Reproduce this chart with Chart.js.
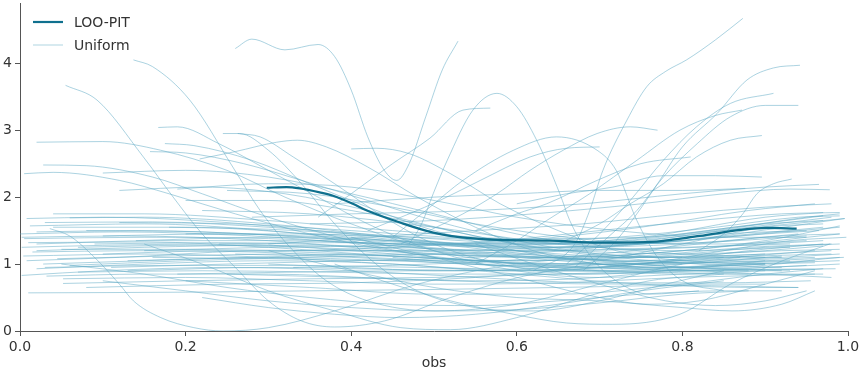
<!DOCTYPE html>
<html>
<head>
<meta charset="utf-8">
<script src="https://cdn.jsdelivr.net/npm/chart.js@4"></script>
<style>
html,body{margin:0;padding:0;background:#fff;}
#wrap{width:862px;height:375px;}
</style>
</head>
<body>
<div id="wrap"><canvas id="c" width="862" height="375"></canvas></div>
<script>
// ---- data ----
const xTicks = [0, 0.2, 0.4, 0.6, 0.8, 1.0];
const yTicks = [0, 1, 2, 3, 4];
const seriesNames = ["LOO-PIT", "Uniform"];

const looPitX = [0.298,0.322,0.338,0.362,0.378,0.402,0.419,0.459,0.499,0.54,0.58,0.64,0.70,0.761,0.821,0.87,0.902,0.938];
const looPitY = [2.14,2.15,2.13,2.07,2.02,1.90,1.80,1.62,1.47,1.39,1.36,1.35,1.32,1.33,1.42,1.51,1.54,1.53];

// Uniform reference curves: [obs, density] pairs
const uniformCurves = [
  [[0.26,4.22],[0.28,4.36],[0.32,4.2],[0.36,4.28],[0.38,4.1],[0.4,3.6],[0.42,2.9],[0.44,2.4],[0.455,2.25],[0.47,2.5],[0.49,3.2],[0.51,3.9],[0.529,4.33]],
  [[0.62,0.9],[0.67,1.3],[0.688,1.8],[0.704,2.4],[0.733,3.15],[0.757,3.65],[0.78,3.88],[0.805,4.05],[0.84,4.35],[0.873,4.67]],
  [[0.47,1.3],[0.485,1.6],[0.499,2.05],[0.516,2.55],[0.547,3.3],[0.576,3.55],[0.6,3.35],[0.624,2.85],[0.652,2.05],[0.664,1.65],[0.69,1.1],[0.72,0.75],[0.76,0.55],[0.82,0.6]],
  [[0.36,1.7],[0.4,2.05],[0.45,2.5],[0.495,2.88],[0.535,3.3],[0.568,3.33]],
  [[0.055,3.67],[0.093,3.45],[0.149,2.6],[0.185,2.0],[0.22,1.45],[0.26,0.95],[0.3,0.45],[0.34,0.15],[0.38,0.06],[0.44,0.15],[0.52,0.5],[0.62,0.85],[0.72,1.0],[0.8,1.0]],
  [[0.137,4.05],[0.16,3.95],[0.205,3.45],[0.257,2.45],[0.29,1.8],[0.33,1.2],[0.37,0.75],[0.42,0.45],[0.5,0.3],[0.6,0.4],[0.7,0.7],[0.8,1.0],[0.87,1.1]],
  [[0.036,1.53],[0.06,1.42],[0.09,1.1],[0.12,0.7],[0.137,0.45],[0.17,0.2],[0.21,0.05],[0.245,0.0],[0.3,0.05],[0.38,0.3],[0.48,0.7],[0.6,1.0],[0.72,1.1],[0.8,1.1]],
  [[0.02,2.82],[0.1,2.83],[0.17,2.7],[0.25,2.4],[0.32,2.0],[0.4,1.6],[0.5,1.2],[0.6,1.0],[0.7,0.9],[0.8,0.85],[0.88,0.85]],
  [[0.028,2.48],[0.08,2.47],[0.16,2.3],[0.22,2.05],[0.3,1.7],[0.4,1.35],[0.5,1.1],[0.6,0.95],[0.7,0.9],[0.8,0.95],[0.9,1.0]],
  [[0.005,2.35],[0.04,2.37],[0.12,2.25],[0.18,2.05],[0.26,1.75],[0.35,1.45],[0.45,1.2],[0.55,1.05],[0.65,1.0],[0.75,1.05],[0.85,1.1]],
  [[0.167,3.04],[0.19,3.05],[0.24,2.8],[0.3,2.4],[0.36,2.0],[0.42,1.6],[0.5,1.2],[0.6,0.9],[0.7,0.8],[0.8,0.85],[0.9,0.9]],
  [[0.175,2.8],[0.21,2.77],[0.28,2.55],[0.35,2.2],[0.42,1.85],[0.5,1.5],[0.6,1.2],[0.7,1.0],[0.8,0.95],[0.9,1.0]],
  [[0.157,2.68],[0.2,2.66],[0.27,2.5],[0.34,2.25],[0.42,1.95],[0.5,1.65],[0.6,1.35],[0.7,1.15],[0.8,1.1],[0.92,1.1]],
  [[0.245,2.95],[0.265,2.95],[0.3,2.7],[0.34,2.2],[0.38,1.6],[0.43,1.0],[0.48,0.6],[0.55,0.35],[0.62,0.3],[0.7,0.45],[0.78,0.7],[0.85,0.9]],
  [[0.263,2.95],[0.29,2.9],[0.33,2.6],[0.38,2.2],[0.44,1.7],[0.5,1.3],[0.58,1.0],[0.68,0.85],[0.78,0.9],[0.9,1.05]],
  [[0.217,2.57],[0.26,2.68],[0.31,2.82],[0.335,2.85],[0.37,2.75],[0.42,2.45],[0.48,2.0],[0.55,1.55],[0.62,1.2],[0.7,1.0],[0.8,0.9],[0.88,0.9]],
  [[0.4,2.72],[0.43,2.73],[0.47,2.65],[0.52,2.35],[0.58,1.9],[0.65,1.5],[0.72,1.2],[0.8,1.05],[0.9,1.0]],
  [[0.68,0.9],[0.72,1.35],[0.745,1.75],[0.77,2.2],[0.8,2.75],[0.842,3.25],[0.878,3.75],[0.91,3.93],[0.942,3.97]],
  [[0.66,1.0],[0.7,1.45],[0.737,1.95],[0.777,2.55],[0.817,3.05],[0.858,3.4],[0.91,3.55]],
  [[0.67,0.95],[0.71,1.4],[0.745,1.8],[0.777,2.3],[0.818,2.8],[0.858,3.2],[0.9,3.37],[0.94,3.37]],
  [[0.55,1.0],[0.6,1.35],[0.636,1.65],[0.688,2.05],[0.745,2.55],[0.797,3.0],[0.84,3.22],[0.872,3.3]],
  [[0.65,1.3],[0.7,1.6],[0.737,1.9],[0.777,2.2],[0.817,2.6],[0.858,2.85],[0.896,2.92]],
  [[0.46,1.3],[0.535,1.75],[0.576,2.05],[0.616,2.4],[0.656,2.7],[0.697,2.95],[0.737,3.05],[0.77,3.0]],
  [[0.45,1.4],[0.495,1.85],[0.535,2.25],[0.596,2.7],[0.648,2.9],[0.697,2.7],[0.72,2.4],[0.745,1.65],[0.77,1.1],[0.8,0.75],[0.85,0.6]],
  [[0.42,1.5],[0.47,1.75],[0.507,1.95],[0.556,2.25],[0.616,2.6],[0.66,2.73],[0.7,2.75]],
  [[0.55,1.5],[0.6,1.75],[0.636,1.9],[0.697,2.25],[0.75,2.5],[0.81,2.6]],
  [[0.6,1.9],[0.66,2.05],[0.716,2.15],[0.777,2.32],[0.84,2.32],[0.896,2.3]],
  [[0.82,1.2],[0.85,1.45],[0.873,1.75],[0.89,2.05],[0.91,2.2],[0.932,2.27]],
  [[0.1,2.36],[0.2,2.4],[0.3,2.3],[0.4,2.05],[0.5,1.75],[0.6,1.45],[0.7,1.25],[0.8,1.15],[0.9,1.1]],
  [[0.12,2.1],[0.22,2.15],[0.32,2.05],[0.42,1.8],[0.52,1.5],[0.62,1.25],[0.72,1.1],[0.82,1.0],[0.92,0.95]],
  [[0.2,1.95],[0.3,1.95],[0.4,1.8],[0.5,1.55],[0.6,1.3],[0.7,1.15],[0.8,1.1],[0.9,1.15]],
  [[0.008,1.68],[0.1,1.7],[0.25,1.62],[0.4,1.45],[0.55,1.3],[0.7,1.3],[0.85,1.5],[0.996,1.68]],
  [[0.002,1.4],[0.12,1.42],[0.3,1.35],[0.45,1.2],[0.6,1.1],[0.75,1.15],[0.9,1.35],[0.99,1.57]],
  [[0.012,1.57],[0.15,1.6],[0.3,1.5],[0.45,1.3],[0.6,1.15],[0.75,1.1],[0.9,1.2],[0.97,1.27]],
  [[0.002,1.25],[0.1,1.28],[0.25,1.3],[0.4,1.2],[0.55,1.05],[0.7,0.95],[0.85,0.95],[0.99,1.1]],
  [[0.004,1.12],[0.15,1.15],[0.3,1.1],[0.45,1.0],[0.6,0.9],[0.75,0.9],[0.9,0.92],[0.985,0.93]],
  [[0.008,1.05],[0.12,1.1],[0.3,1.2],[0.45,1.2],[0.6,1.1],[0.75,0.95],[0.9,0.85],[0.98,0.8]],
  [[0.002,0.83],[0.1,0.9],[0.25,0.95],[0.4,0.9],[0.55,0.8],[0.7,0.72],[0.85,0.72],[0.955,0.75]],
  [[0.01,0.57],[0.2,0.58],[0.35,0.6],[0.5,0.62],[0.65,0.65],[0.8,0.68],[0.94,0.65]],
  [[0.02,0.93],[0.15,1.0],[0.3,1.05],[0.45,1.0],[0.6,0.85],[0.75,0.7],[0.9,0.65],[0.94,0.65]],
  [[0.028,1.0],[0.15,1.05],[0.3,1.1],[0.45,1.05],[0.6,0.98],[0.75,1.0],[0.9,1.05],[0.995,1.1]],
  [[0.032,0.82],[0.15,0.85],[0.3,0.85],[0.45,0.78],[0.6,0.72],[0.75,0.7],[0.9,0.7]],
  [[0.052,0.78],[0.2,0.8],[0.35,0.75],[0.5,0.7],[0.65,0.72],[0.8,0.8],[0.96,0.85]],
  [[0.052,0.71],[0.2,0.75],[0.35,0.78],[0.5,0.8],[0.65,0.85],[0.8,0.9],[0.93,0.9]],
  [[0.06,1.69],[0.15,1.7],[0.3,1.6],[0.45,1.4],[0.6,1.2],[0.75,1.1],[0.9,1.15],[0.98,1.2]],
  [[0.07,1.25],[0.2,1.28],[0.35,1.25],[0.5,1.15],[0.65,1.1],[0.8,1.2],[0.95,1.4],[0.99,1.45]],
  [[0.005,1.38],[0.15,1.4],[0.3,1.38],[0.45,1.3],[0.6,1.25],[0.75,1.3],[0.9,1.45],[0.965,1.5]],
  [[0.02,1.2],[0.15,1.25],[0.3,1.28],[0.45,1.25],[0.6,1.2],[0.75,1.22],[0.9,1.3],[0.97,1.35]],
  [[0.1,1.15],[0.25,1.2],[0.4,1.15],[0.55,1.05],[0.7,1.0],[0.85,1.05],[0.96,1.1]],
  [[0.04,1.55],[0.2,1.55],[0.35,1.45],[0.5,1.3],[0.65,1.25],[0.8,1.35],[0.95,1.6],[0.996,1.68]],
  [[0.14,1.35],[0.3,1.4],[0.45,1.35],[0.6,1.3],[0.75,1.4],[0.9,1.7],[0.97,1.77]],
  [[0.15,1.2],[0.3,1.25],[0.45,1.28],[0.6,1.35],[0.75,1.55],[0.88,1.8],[0.96,1.9]],
  [[0.11,0.95],[0.25,1.0],[0.4,1.05],[0.55,1.1],[0.7,1.25],[0.85,1.45],[0.95,1.5]],
  [[0.13,0.9],[0.3,0.95],[0.45,0.92],[0.6,0.9],[0.75,1.0],[0.88,1.2],[0.97,1.3]],
  [[0.08,0.65],[0.25,0.7],[0.4,0.72],[0.55,0.8],[0.7,0.95],[0.85,1.1],[0.98,1.15]],
  [[0.18,1.55],[0.3,1.52],[0.45,1.4],[0.6,1.2],[0.75,1.0],[0.88,0.92],[0.96,0.92]],
  [[0.2,1.45],[0.35,1.45],[0.5,1.3],[0.65,1.1],[0.8,0.95],[0.92,0.9]],
  [[0.22,1.8],[0.35,1.75],[0.5,1.55],[0.65,1.3],[0.8,1.2],[0.93,1.25]],
  [[0.25,2.1],[0.35,2.05],[0.45,1.85],[0.55,1.6],[0.7,1.35],[0.85,1.3],[0.95,1.35]],
  [[0.19,2.12],[0.3,2.2],[0.4,2.15],[0.5,1.95],[0.6,1.7],[0.72,1.5],[0.85,1.4],[0.95,1.4]],
  [[0.3,1.0],[0.4,0.95],[0.5,0.9],[0.6,0.92],[0.7,1.05],[0.8,1.3],[0.9,1.55],[0.97,1.6]],
  [[0.25,0.85],[0.4,0.8],[0.55,0.75],[0.7,0.8],[0.85,1.0],[0.96,1.05]],
  [[0.2,0.75],[0.35,0.65],[0.5,0.55],[0.65,0.55],[0.8,0.7],[0.9,0.85],[0.97,0.93]],
  [[0.3,1.3],[0.42,1.4],[0.55,1.5],[0.68,1.6],[0.8,1.75],[0.9,1.85],[0.98,1.9]],
  [[0.33,1.2],[0.45,1.25],[0.58,1.35],[0.7,1.5],[0.82,1.65],[0.92,1.75],[0.99,1.77]],
  [[0.35,1.6],[0.5,1.65],[0.62,1.75],[0.75,1.9],[0.85,2.05],[0.93,2.12],[0.978,2.11]],
  [[0.28,1.7],[0.4,1.75],[0.55,1.8],[0.68,1.9],[0.8,2.05],[0.9,2.15],[0.965,2.19]],
  [[0.38,1.9],[0.5,2.0],[0.6,2.05],[0.7,2.1],[0.8,2.1],[0.876,2.13]],
  [[0.45,1.1],[0.55,1.0],[0.65,0.95],[0.75,1.0],[0.85,1.2],[0.93,1.35],[0.998,1.4]],
  [[0.38,1.0],[0.45,0.7],[0.52,0.45],[0.596,0.25],[0.66,0.12],[0.716,0.1],[0.797,0.25],[0.858,0.7],[0.921,1.05],[0.978,1.3]],
  [[0.15,1.3],[0.22,1.0],[0.3,0.6],[0.38,0.3],[0.46,0.05],[0.52,0.02],[0.6,0.2],[0.68,0.5],[0.76,0.75],[0.85,0.85]],
  [[0.05,1.0],[0.15,0.85],[0.25,0.65],[0.35,0.5],[0.45,0.4],[0.55,0.38],[0.65,0.45],[0.75,0.55],[0.85,0.6],[0.92,0.6]],
  [[0.1,0.75],[0.2,0.6],[0.3,0.45],[0.4,0.35],[0.5,0.3],[0.6,0.32],[0.7,0.42],[0.8,0.55],[0.88,0.6]],
  [[0.3,1.2],[0.4,0.9],[0.5,0.65],[0.6,0.5],[0.7,0.45],[0.8,0.35],[0.86,0.3],[0.92,0.4],[0.96,0.6]],
  [[0.55,1.3],[0.62,1.0],[0.7,0.7],[0.78,0.45],[0.84,0.38],[0.9,0.45],[0.95,0.6]],
  [[0.4,1.4],[0.5,1.1],[0.6,0.8],[0.7,0.5],[0.76,0.4],[0.82,0.45],[0.9,0.7],[0.96,0.9]],
  [[0.22,0.5],[0.3,0.35],[0.38,0.25],[0.46,0.2],[0.55,0.25],[0.65,0.4],[0.75,0.6],[0.85,0.75]],
  [[0.0,1.45],[0.12,1.48],[0.28,1.42],[0.42,1.3],[0.56,1.2],[0.7,1.25],[0.84,1.4],[0.97,1.55]],
  [[0.01,1.32],[0.15,1.33],[0.3,1.25],[0.45,1.12],[0.6,1.05],[0.75,1.1],[0.9,1.25],[0.99,1.3]],
  [[0.015,1.18],[0.14,1.2],[0.28,1.18],[0.42,1.1],[0.56,1.02],[0.7,1.0],[0.84,1.08],[0.96,1.2]],
  [[0.03,1.62],[0.16,1.63],[0.3,1.55],[0.45,1.42],[0.6,1.32],[0.74,1.35],[0.88,1.55],[0.98,1.7]],
  [[0.045,1.08],[0.18,1.12],[0.33,1.15],[0.48,1.1],[0.62,1.0],[0.76,0.92],[0.9,0.95],[0.99,1.0]],
  [[0.06,0.98],[0.2,1.05],[0.35,1.1],[0.5,1.15],[0.65,1.2],[0.8,1.25],[0.93,1.3]],
  [[0.02,1.3],[0.17,1.35],[0.32,1.35],[0.47,1.3],[0.62,1.3],[0.76,1.4],[0.9,1.6],[0.97,1.65]],
  [[0.08,1.5],[0.22,1.48],[0.36,1.38],[0.5,1.22],[0.64,1.1],[0.78,1.05],[0.92,1.1],[0.99,1.15]],
  [[0.1,1.42],[0.24,1.45],[0.38,1.4],[0.52,1.3],[0.66,1.25],[0.8,1.3],[0.94,1.45]],
  [[0.05,1.22],[0.2,1.22],[0.35,1.2],[0.5,1.2],[0.65,1.25],[0.8,1.35],[0.94,1.5],[0.99,1.55]],
  [[0.12,1.62],[0.26,1.6],[0.4,1.5],[0.54,1.38],[0.68,1.3],[0.82,1.32],[0.95,1.42]],
  [[0.03,0.95],[0.18,0.98],[0.33,0.98],[0.48,0.95],[0.63,0.92],[0.78,0.95],[0.92,1.02],[0.99,1.05]],
  [[0.07,0.88],[0.22,0.9],[0.37,0.88],[0.52,0.85],[0.67,0.85],[0.82,0.9],[0.95,0.98]],
  [[0.16,1.1],[0.3,1.08],[0.45,1.05],[0.6,1.05],[0.75,1.12],[0.88,1.25],[0.98,1.3]],
  [[0.24,1.3],[0.38,1.32],[0.52,1.28],[0.66,1.2],[0.8,1.15],[0.92,1.2],[0.99,1.22]],
  [[0.09,1.3],[0.24,1.32],[0.38,1.28],[0.52,1.18],[0.66,1.08],[0.8,1.02],[0.93,1.05]],
  [[0.02,1.48],[0.14,1.5],[0.28,1.45],[0.42,1.35],[0.56,1.28],[0.7,1.32],[0.84,1.5],[0.95,1.7],[0.99,1.75]],
  [[0.13,1.05],[0.28,1.1],[0.43,1.15],[0.58,1.12],[0.72,1.05],[0.86,1.0],[0.96,1.02]],
  [[0.33,0.95],[0.45,0.98],[0.58,1.05],[0.7,1.15],[0.82,1.3],[0.92,1.42],[0.99,1.45]],
  [[0.26,1.15],[0.4,1.1],[0.54,1.0],[0.68,0.95],[0.8,1.0],[0.92,1.12]],
  [[0.04,1.75],[0.15,1.75],[0.3,1.65],[0.45,1.5],[0.6,1.38],[0.75,1.4],[0.88,1.58],[0.97,1.72]],
  [[0.19,0.85],[0.33,0.88],[0.48,0.9],[0.62,0.9],[0.76,0.88],[0.9,0.85],[0.97,0.85]],
  [[0.35,1.45],[0.48,1.4],[0.6,1.35],[0.72,1.4],[0.84,1.55],[0.94,1.7],[0.99,1.72]]
];

// ---- styles ----
const looColor = 'rgb(15,112,142)';
const unifColor = 'rgba(90,168,195,0.5)';
const textColor = '#333333';
const axisColor = '#555555';
const fontFamily = '"DejaVu Sans", sans-serif';

const datasets = [];
datasets.push({
  label: seriesNames[0],
  data: looPitX.map((x, i) => ({x: x, y: looPitY[i]})),
  borderColor: looColor,
  borderWidth: 2.2,
  pointRadius: 0,
  cubicInterpolationMode: 'monotone',
  fill: false,
  order: 0
});
uniformCurves.forEach(c => {
  datasets.push({
    label: seriesNames[1],
    data: c.map(p => ({x: p[0], y: p[1]})),
    borderColor: unifColor,
    borderWidth: 1,
    pointRadius: 0,
    cubicInterpolationMode: 'monotone',
    fill: false,
    order: 1
  });
});

const legendPlugin = {
  id: 'customLegend',
  afterDraw(chart) {
    const ctx = chart.ctx;
    ctx.save();
    ctx.font = '14px ' + fontFamily;
    ctx.fillStyle = textColor;
    ctx.textBaseline = 'middle';
    ctx.lineCap = 'butt';
    ctx.strokeStyle = looColor; ctx.lineWidth = 2.2;
    ctx.beginPath(); ctx.moveTo(33, 22); ctx.lineTo(63, 22); ctx.stroke();
    ctx.fillText(seriesNames[0], 74, 23);
    ctx.strokeStyle = 'rgba(95,172,198,0.5)'; ctx.lineWidth = 1;
    ctx.beginPath(); ctx.moveTo(33, 45); ctx.lineTo(63, 45); ctx.stroke();
    ctx.fillText(seriesNames[1], 74, 46);
    ctx.restore();
  }
};

new Chart(document.getElementById('c'), {
  type: 'line',
  data: { datasets: datasets },
  plugins: [legendPlugin],
  options: {
    responsive: false,
    animation: false,
    events: [],
    layout: { padding: { left: 0, right: 14, top: 3, bottom: 0 } },
    plugins: { legend: { display: false }, tooltip: { enabled: false } },
    scales: {
      x: {
        type: 'linear', min: 0, max: 1,
        afterFit: s => { s.height = 44; s.paddingLeft = 0; s.paddingRight = 0; },
        afterBuildTicks: s => { s.ticks = xTicks.map(v => ({value: v})); },
        ticks: { font: { family: fontFamily, size: 14 }, color: textColor, padding: 3, maxRotation: 0,
          callback: v => Number(v).toFixed(1) },
        grid: { display: true, drawOnChartArea: false, drawTicks: true, tickLength: 5, tickColor: axisColor, tickWidth: 1 },
        border: { display: true, color: axisColor, width: 1 },
        title: { display: true, text: 'obs', font: { family: fontFamily, size: 14 }, color: textColor, padding: { top: 2, bottom: 3 } }
      },
      y: {
        type: 'linear', min: 0, max: 4.9,
        afterFit: s => { s.width = 20; s.paddingTop = 0; s.paddingBottom = 0; },
        afterBuildTicks: s => { s.ticks = yTicks.map(v => ({value: v})); },
        ticks: { font: { family: fontFamily, size: 14 }, color: textColor, padding: 3,
          callback: v => String(v) },
        grid: { display: true, drawOnChartArea: false, drawTicks: true, tickLength: 5, tickColor: axisColor, tickWidth: 1 },
        border: { display: true, color: axisColor, width: 1 }
      }
    }
  }
});
</script>
</body>
</html>
